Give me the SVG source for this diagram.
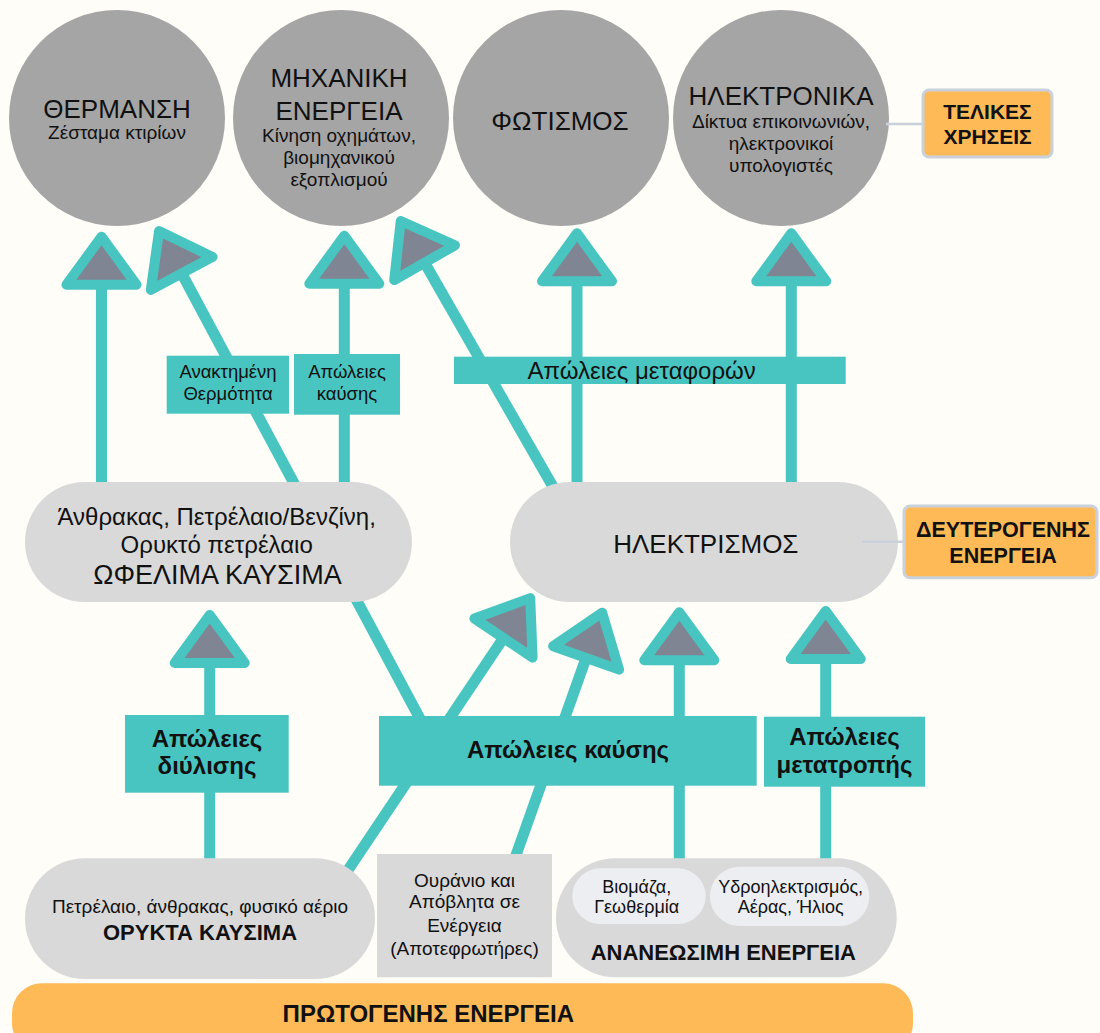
<svg xmlns="http://www.w3.org/2000/svg" width="1100" height="1033" viewBox="0 0 1100 1033">
<style>
text{font-family:"Liberation Sans",Arial,sans-serif;fill:#111;text-anchor:middle}
.circ{fill:#A5A5A5}
.pill{fill:#D9D9D9}
.inner{fill:#EDEEF1}
.teal{fill:#49C5C1}
.orange{fill:#FDBA57;stroke:#C9D2DC;stroke-width:3}
.conn{stroke:#49C5C1;stroke-width:11;fill:none;marker-end:url(#tri)}
.thin{stroke:#C9D2DC;stroke-width:2.5;fill:none}
.t26{font-size:26px}
.t19{font-size:19px}
.b{font-weight:bold}
</style>
<defs>
<marker id="tri" markerUnits="userSpaceOnUse" orient="auto" refX="0" refY="0" markerWidth="1" markerHeight="1" overflow="visible">
<path d="M0,-35 L48,0 L0,35 Z" fill="#7F8592" stroke="#49C5C1" stroke-width="10" stroke-linejoin="round"/>
</marker>
</defs>
<rect width="1100" height="1033" fill="#FEFDF7"/>

<g id="connectors">
<line class="conn" x1="101.5" y1="486" x2="101.5" y2="284.7"/>
<line class="conn" x1="421.4" y1="721.4" x2="181.7" y2="273.4"/>
<line class="conn" x1="344.3" y1="486" x2="344.3" y2="283.7"/>
<line class="conn" x1="556" y1="492" x2="424.6" y2="262.7"/>
<line class="conn" x1="577" y1="486" x2="577" y2="281.3"/>
<line class="conn" x1="791.3" y1="486" x2="791.3" y2="281.3"/>
<line class="conn" x1="209.7" y1="866" x2="209.7" y2="663"/>
<line class="conn" x1="346" y1="873" x2="503.5" y2="638"/>
<line class="conn" x1="515" y1="858" x2="586.1" y2="657.9"/>
<line class="conn" x1="679.3" y1="872" x2="679.3" y2="660.3"/>
<line class="conn" x1="825.7" y1="870" x2="825.7" y2="659"/>
</g>

<g id="heating">
<circle class="circ" cx="117" cy="118" r="108"/>
<text class="t26" x="117" y="118">ΘΕΡΜΑΝΣΗ</text>
<text class="t19" x="117" y="139">Ζέσταμα κτιρίων</text>
</g>
<g id="mechanical">
<circle class="circ" cx="341" cy="118" r="108"/>
<text class="t26" x="339" y="87">ΜΗΧΑΝΙΚΗ</text>
<text class="t26" x="339" y="120">ΕΝΕΡΓΕΙΑ</text>
<text class="t19" x="339" y="142">Κίνηση οχημάτων,</text>
<text class="t19" x="339" y="164">βιομηχανικού</text>
<text class="t19" x="339" y="186">εξοπλισμού</text>
</g>
<g id="lighting">
<circle class="circ" cx="561" cy="118" r="108"/>
<text class="t26" x="560" y="130">ΦΩΤΙΣΜΟΣ</text>
</g>
<g id="electronics">
<circle class="circ" cx="781" cy="118" r="108"/>
<text class="t26" x="781" y="105">ΗΛΕΚΤΡΟΝΙΚΑ</text>
<text class="t19" x="781" y="128">Δίκτυα επικοινωνιών,</text>
<text class="t19" x="781" y="150">ηλεκτρονικοί</text>
<text class="t19" x="781" y="172">υπολογιστές</text>
</g>
<g id="final-uses">
<rect class="orange" x="923" y="90" width="129" height="67" rx="6"/>
<text class="b" x="987.5" y="119" font-size="21">ΤΕΛΙΚΕΣ</text>
<text class="b" x="987.5" y="144" font-size="21">ΧΡΗΣΕΙΣ</text>
</g>

<g id="recovered-heat">
<rect class="teal" x="166.7" y="355.7" width="122.3" height="58"/>
<text x="228" y="378.3" font-size="18.5">Ανακτημένη</text>
<text x="228" y="400" font-size="18.5">Θερμότητα</text>
</g>
<g id="combustion-loss-top">
<rect class="teal" x="294" y="354" width="106" height="60.7"/>
<text x="347" y="378.3" font-size="18.5">Απώλειες</text>
<text x="347" y="400" font-size="18.5">καύσης</text>
</g>
<g id="transport-loss">
<rect class="teal" x="454" y="356.7" width="391.7" height="27.3"/>
<text x="641.7" y="378.8" font-size="24">Απώλειες μεταφορών</text>
</g>

<g id="useful-fuels">
<rect class="pill" x="25" y="482" width="387" height="120" rx="60"/>
<text x="216.7" y="525" font-size="24">Άνθρακας, Πετρέλαιο/Βενζίνη,</text>
<text x="216.7" y="552.7" font-size="24">Ορυκτό πετρέλαιο</text>
<text x="217.5" y="584.3" font-size="27">ΩΦΕΛΙΜΑ ΚΑΥΣΙΜΑ</text>
</g>
<g id="electricity">
<rect class="pill" x="510" y="482" width="388" height="120" rx="60"/>
<text class="t26" x="705.8" y="552.7">ΗΛΕΚΤΡΙΣΜΟΣ</text>
</g>
<g id="secondary-energy">
<rect class="orange" x="904" y="506" width="193" height="71.7" rx="6"/>
<text class="b" x="1003" y="537" font-size="21.5">ΔΕΥΤΕΡΟΓΕΝΗΣ</text>
<text class="b" x="1003" y="563" font-size="21.5">ΕΝΕΡΓΕΙΑ</text>
</g>

<g id="refining-loss">
<rect class="teal" x="125" y="715" width="163.7" height="77.7"/>
<text class="b" x="207" y="746.7" font-size="24">Απώλειες</text>
<text class="b" x="207" y="774" font-size="24">διύλισης</text>
</g>
<g id="combustion-loss">
<rect class="teal" x="379" y="716" width="377.7" height="69.7"/>
<text class="b" x="568" y="758.3" font-size="24">Απώλειες καύσης</text>
</g>
<g id="conversion-loss">
<rect class="teal" x="764" y="716.7" width="161" height="70"/>
<text class="b" x="844.5" y="745" font-size="24">Απώλειες</text>
<text class="b" x="844.5" y="773.3" font-size="24">μετατροπής</text>
</g>

<g id="fossil-fuels">
<rect class="pill" x="25" y="858.3" width="350" height="120.7" rx="60"/>
<text x="200" y="913.3" font-size="19">Πετρέλαιο, άνθρακας, φυσικό αέριο</text>
<text class="b" x="200" y="939.5" font-size="22">ΟΡΥΚΤΑ ΚΑΥΣΙΜΑ</text>
</g>
<g id="uranium-waste">
<rect class="pill" x="377" y="854" width="175" height="123.3"/>
<text x="464.5" y="886.7" font-size="19">Ουράνιο και</text>
<text x="464.5" y="908.3" font-size="19">Απόβλητα σε</text>
<text x="464.5" y="931.7" font-size="19">Ενέργεια</text>
<text x="464.5" y="955" font-size="19">(Αποτεφρωτήρες)</text>
</g>
<g id="renewable">
<rect class="pill" x="556" y="858.3" width="340.7" height="119" rx="59.5"/>
<rect class="inner" x="572.3" y="868.3" width="133.4" height="55.7" rx="27.8"/>
<rect class="inner" x="710" y="866.7" width="159.3" height="59.3" rx="29.6"/>
<text x="636.7" y="892.7" font-size="18">Βιομάζα,</text>
<text x="636.7" y="913.3" font-size="18">Γεωθερμία</text>
<text x="790.7" y="892.7" font-size="18">Υδροηλεκτρισμός,</text>
<text x="790.7" y="913.3" font-size="18">Αέρας, Ήλιος</text>
<text class="b" x="723.3" y="959.5" font-size="22">ΑΝΑΝΕΩΣΙΜΗ ΕΝΕΡΓΕΙΑ</text>
</g>
<g id="primary-energy">
<rect x="12" y="983.3" width="901" height="70" rx="30" fill="#FDBA57"/>
<text class="b" x="428.3" y="1021.7" font-size="24">ΠΡΩΤΟΓΕΝΗΣ ΕΝΕΡΓΕΙΑ</text>
</g>

<g id="label-connectors">
<line class="thin" x1="886" y1="124" x2="923" y2="124"/>
<line class="thin" x1="862" y1="541.7" x2="904" y2="541.7"/>
</g>
</svg>
